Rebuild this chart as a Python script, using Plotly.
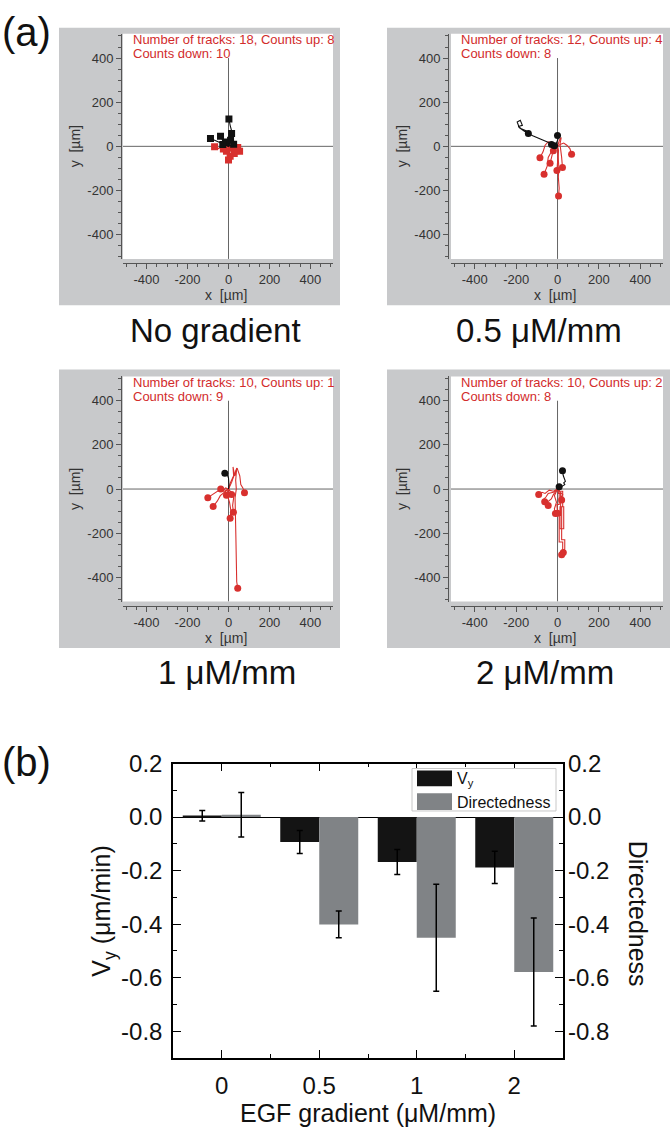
import plotly.graph_objects as go

W, H = 670, 1128
FONT = "Liberation Sans, Arial, sans-serif"

# ---------------- data: panel (a) track plots ----------------
PANEL_TITLES = ["No gradient", "0.5 \u03bcM/mm", "1 \u03bcM/mm", "2 \u03bcM/mm"]
PANEL_INFO_LINE1 = ["Number of tracks: 18, Counts up: 8", "Number of tracks: 12, Counts up: 4",
                    "Number of tracks: 10, Counts up: 1", "Number of tracks: 10, Counts up: 2"]
PANEL_INFO_LINE2 = ["Counts down: 10", "Counts down: 8", "Counts down: 9", "Counts down: 8"]

# No gradient
P1_UP_X = [[0, 6, 14, 18, 8, 2], [0, -20, -45, -60, -88], [0, -10, -25, -32, -39], [0, -8, -15],
           [0, 5, 2, 10], [0, 10, 18, 25], [0, -12, -20, -28], [0, 6, 12, 15]]
P1_UP_Y = [[0, 18, 40, 60, 95, 124], [0, 8, 20, 25, 36], [0, 15, 22, 35, 46], [0, 12, 20],
           [0, 10, 20, 28], [0, 5, 3, 10], [0, 6, 2, 8], [0, 20, 45, 58]]
P1_DOWN_X = [[0, -20, -35, -50, -68], [0, 15, 30, 42, 54], [0, 5, -3, 2, 0], [0, 10, 5, 8],
             [0, -10, -18, -25], [0, 8, 14, 20], [0, 12, 25, 35], [0, -5, -8, -10],
             [0, 10, 20, 28], [0, 15, 30, 45]]
P1_DOWN_Y = [[0, -8, -4, -10, -2], [0, -10, -5, -18, -22], [0, -15, -30, -48, -62], [0, -12, -30, -45],
             [0, -5, -2, -12], [0, -3, -10, -8], [0, 2, -12, -20], [0, -8, -15, -22],
             [0, -12, -25, -32], [0, -3, 2, -5]]

# 0.5 uM/mm
P2_UP_X = [[0, -40, -80, -120, -160, -185, -195, -180, -170, -190, -175, -150, -141],
           [0, -5, 3, 0], [0, -10, -20, -29], [0, -8, -15]]
P2_UP_Y = [[0, 15, 32, 48, 68, 85, 110, 118, 95, 90, 80, 70, 58],
           [0, 15, 35, 49], [0, 5, 2, 8], [0, 5, 3]]
P2_DOWN_X = [[0, -20, -45, -60, -70, -85], [0, -15, -30, -45, -50, -65], [0, -10, -25, -30, -36],
             [0, 5, 2, -2, -3], [0, 10, 18, 12, 20, 24], [0, 3, 6, 4, 8, 5],
             [0, 15, 30, 45, 60, 68], [0, -10, -20]]
P2_DOWN_Y = [[0, 15, 20, 5, -25, -52], [0, -10, -25, -50, -90, -126], [0, -15, -35, -55, -77],
             [0, -20, -50, -85, -110], [0, 30, 40, 10, -50, -96], [0, -40, -90, -140, -190, -225],
             [0, 10, 15, 5, -10, -36], [0, -12, -20]]

# 1 uM/mm
P3_UP_X = [[0, 2, 0, -8, -18]]
P3_UP_Y = [[0, 20, 50, 70, 72]]
P3_DOWN_X = [[0, 10, 25, 22, 30, 40, 35, 38, 32, 35, 36, 38, 40, 45],
             [0, -20, -45, -70, -85, -101], [0, -20, -40, -55, -75], [0, -15, -25, -38],
             [0, -5, 5, 12, 8], [0, 15, 25, 20, 24], [0, 15, 30, 42, 55, 60, 70, 78],
             [0, -5, -10], [0, 8, 15]]
P3_DOWN_Y = [[0, 30, 60, 100, 60, 95, 40, 0, -40, -120, -220, -320, -420, -449],
             [0, -10, -5, -20, -30, -39], [0, -15, -30, -55, -79], [0, 5, -8, 0],
             [0, -30, -60, -100, -132], [0, -20, -40, -75, -105], [0, 30, 70, 95, 60, 20, 5, -17],
             [0, -15, -28], [0, -10, -25]]

# 2 uM/mm
P4_UP_X = [[0, 15, 25, 35, 30, 38, 28, 24], [0, 4, 8]]
P4_UP_Y = [[0, 8, 12, 20, 28, 35, 60, 83], [0, 5, 10]]
P4_DOWN_X = [[0, 10, 25, 25, 12, 12, 30, 30, 20, 20, 35, 35, 28], [0, 5, 15, 15, 8, 8, 25, 25, 20],
             [0, -20, -40, -60, -75, -91], [0, -20, -45, -55, -70, -62], [0, -15, -5, -15, -10],
             [0, -20, -30, -50, -45], [0, 10, 25, 15, 20], [0, 8, 8, -3, 0]]
P4_DOWN_Y = [[0, -10, -10, -80, -80, -180, -180, -80, -80, -230, -230, -270, -288],
             [0, -20, -20, -120, -120, -240, -240, -280, -298],
             [0, -10, -5, -20, -15, -25], [0, -15, -20, -35, -50, -58], [0, -30, -60, -90, -111],
             [0, -25, -45, -60, -75], [0, -10, -25, -40, -50], [0, -15, -70, -70, -110]]

TRACK_TICKS = [-400, -200, 0, 200, 400]
TRACK_TICK_TEXT = ["-400", "-200", "0", "200", "400"]
TRACK_XRANGE = [-515, 510]
TRACK_YRANGE = [-510, 510]

# ---------------- data: panel (b) bar chart ----------------
CATEGORIES = ["0", "0.5", "1", "2"]
VY = [0.005, -0.093, -0.168, -0.188]
VY_ERR = [0.02, 0.043, 0.047, 0.06]
DIRECTEDNESS = [0.009, -0.401, -0.451, -0.579]
DIRECTEDNESS_ERR = [0.083, 0.05, 0.2, 0.202]
BAR_YTICKS = [0.2, 0.0, -0.2, -0.4, -0.6, -0.8]
BAR_YTICK_TEXT = ["0.2", "0.0", "-0.2", "-0.4", "-0.6", "-0.8"]
BAR_YRANGE = [-0.9, 0.2]

# ---------------- styles ----------------
RED = "#d8302e"
TXT_RED = "#d22b2b"
BLACK = "#111111"
GREY_BG = "#c8c9cb"
AX_COL = "#555555"
BAR_BLACK = "#141414"
BAR_GREY = "#808386"


def px(x):
    return x / W


def py(y):
    return 1 - y / H


def ann(x, y, text, size, color="#111111", **kw):
    d = dict(xref="paper", yref="paper", x=px(x), y=py(y), text=text, showarrow=False,
             xanchor="center", yanchor="middle", font=dict(family=FONT, size=size, color=color))
    d.update(kw)
    return d


PANELS = [
    dict(x0=123, x1=333, y0=20, y1=248, gx0=59, gx1=340, gy0=14, gy1=295, ay=121, ax=252, lx=215, ly=320),
    dict(x0=451, x1=663, y0=20, y1=248, gx0=387, gx1=670, gy0=14, gy1=295, ay=448, ax=252, lx=539, ly=320),
    dict(x0=123, x1=333, y0=367, y1=595, gx0=59, gx1=340, gy0=360, gy1=642, ay=121, ax=599, lx=227, ly=667),
    dict(x0=451, x1=663, y0=367, y1=595, gx0=387, gx1=670, gy0=360, gy1=642, ay=448, ax=599, lx=545, ly=667),
]

TRACKS = [
    (P1_UP_X, P1_UP_Y, P1_DOWN_X, P1_DOWN_Y, "square"),
    (P2_UP_X, P2_UP_Y, P2_DOWN_X, P2_DOWN_Y, "circle"),
    (P3_UP_X, P3_UP_Y, P3_DOWN_X, P3_DOWN_Y, "circle"),
    (P4_UP_X, P4_UP_Y, P4_DOWN_X, P4_DOWN_Y, "circle"),
]


def joined(tracks):
    out = []
    for t in tracks:
        out += list(t) + [None]
    return out


fig = go.Figure()
shapes = []
annotations = []
layout = dict()

for i, (pan, (ux, uy, dx, dy, sym)) in enumerate(zip(PANELS, TRACKS)):
    n = i + 1
    xa, ya = f"x{n}", f"y{n}"
    for tx, ty, col in ((dx, dy, RED), (ux, uy, BLACK)):
        fig.add_trace(go.Scatter(x=joined(tx), y=joined(ty), mode="lines", xaxis=xa, yaxis=ya,
                                 line=dict(color=col, width=1.1), showlegend=False, hoverinfo="skip"))
        fig.add_trace(go.Scatter(x=[t[-1] for t in tx], y=[t[-1] for t in ty], mode="markers",
                                 xaxis=xa, yaxis=ya, showlegend=False,
                                 marker=dict(symbol=sym, size=7, color=col)))
    axcommon = dict(showgrid=False, zeroline=False, showline=True, linecolor=AX_COL, linewidth=1,
                    ticks="outside", ticklen=5, tickcolor=AX_COL, tickwidth=1,
                    tickmode="array", tickvals=TRACK_TICKS, ticktext=TRACK_TICK_TEXT,
                    minor=dict(dtick=50, tick0=0, ticks="outside", ticklen=3, tickcolor=AX_COL),
                    tickfont=dict(family=FONT, size=13, color="#333333"), anchor="free")
    layout[f"xaxis{n}"] = dict(axcommon, domain=[px(pan["x0"]), px(pan["x1"])], range=TRACK_XRANGE,
                               position=py(pan["ax"]))
    layout[f"yaxis{n}"] = dict(axcommon, domain=[py(pan["y1"]), py(pan["y0"])], range=TRACK_YRANGE,
                               position=px(pan["ay"]))
    # grey panel background and white plot area
    shapes.append(dict(type="rect", xref="paper", yref="paper", x0=px(pan["gx0"]), x1=px(pan["gx1"]),
                       y0=py(pan["gy1"]), y1=py(pan["gy0"]), fillcolor=GREY_BG, line=dict(width=0),
                       layer="below"))
    shapes.append(dict(type="rect", xref="paper", yref="paper", x0=px(pan["x0"]), x1=px(pan["x1"]),
                       y0=py(pan["y1"]), y1=py(pan["y0"]), fillcolor="white", line=dict(width=0),
                       layer="below"))
    # crosshair
    shapes.append(dict(type="line", xref=xa, yref=ya, x0=TRACK_XRANGE[0], x1=TRACK_XRANGE[1], y0=0, y1=0,
                       line=dict(color="#666666", width=1), layer="below"))
    shapes.append(dict(type="line", xref=xa, yref=ya, x0=0, x1=0, y0=TRACK_YRANGE[0], y1=400,
                       line=dict(color="#666666", width=1), layer="below"))
    # info text
    annotations.append(ann(pan["x0"] + 8, pan["y0"] + 6, PANEL_INFO_LINE1[i], 13, TXT_RED, xanchor="left"))
    annotations.append(ann(pan["x0"] + 8, pan["y0"] + 20, PANEL_INFO_LINE2[i], 13, TXT_RED, xanchor="left"))
    # axis titles
    annotations.append(ann((pan["x0"] + pan["x1"]) / 2 - 2, pan["ax"] + 33, "x&nbsp;&nbsp;[\u00b5m]", 14,
                           "#333333"))
    annotations.append(ann(pan["ay"] - 46, (pan["y0"] + pan["y1"]) / 2, "y&nbsp;&nbsp;[\u00b5m]", 14,
                           "#333333", textangle=-90))
    # condition title
    annotations.append(ann(pan["lx"], pan["ly"], PANEL_TITLES[i], 33))

# ---------------- bar chart ----------------
idx = list(range(len(CATEGORIES)))
fig.add_trace(go.Bar(x=idx, y=VY, width=0.4, offset=-0.4, xaxis="x5", yaxis="y5",
                     marker=dict(color=BAR_BLACK, line=dict(width=0)), showlegend=False,
                     error_y=dict(type="data", array=VY_ERR, color="black", thickness=1.5, width=3)))
fig.add_trace(go.Bar(x=idx, y=DIRECTEDNESS, width=0.4, offset=0.0, xaxis="x5", yaxis="y6",
                     marker=dict(color=BAR_GREY, line=dict(width=0)), showlegend=False,
                     error_y=dict(type="data", array=DIRECTEDNESS_ERR, color="black", thickness=1.5,
                                  width=3)))

BX0, BX1, BY0, BY1 = 173, 563, 759, 1057
bar_tickfont = dict(family=FONT, size=24, color="#111111")
layout["xaxis5"] = dict(domain=[px(BX0), px(BX1)], anchor="y5", range=[-0.5, 3.5],
                        tickmode="array", tickvals=idx, ticktext=CATEGORIES,
                        ticks="inside", ticklen=8, tickwidth=1.3, tickcolor="black",
                        minor=dict(dtick=0.5, tick0=0, ticks="inside", ticklen=4, tickcolor="black",
                                   tickwidth=1.3),
                        showline=True, linecolor="black", linewidth=1.5, mirror="ticks",
                        showgrid=False, zeroline=False, tickfont=bar_tickfont, ticklabelstandoff=6)
layout["yaxis5"] = dict(domain=[py(BY1), py(BY0)], anchor="x5", range=BAR_YRANGE,
                        tickmode="array", tickvals=BAR_YTICKS, ticktext=BAR_YTICK_TEXT,
                        ticks="inside", ticklen=8, tickwidth=1.3, tickcolor="black",
                        minor=dict(dtick=0.1, tick0=0, ticks="inside", ticklen=4, tickcolor="black",
                                   tickwidth=1.3),
                        showline=True, linecolor="black", linewidth=1.5, mirror="ticks",
                        showgrid=False, zeroline=True, zerolinecolor="black", zerolinewidth=1.3,
                        tickfont=bar_tickfont, ticklabelstandoff=4)
layout["yaxis6"] = dict(overlaying="y5", side="right", anchor="x5", range=BAR_YRANGE,
                        tickmode="array", tickvals=BAR_YTICKS, ticktext=BAR_YTICK_TEXT,
                        ticks="", showline=False, showgrid=False, zeroline=False,
                        tickfont=bar_tickfont, ticklabelstandoff=4)

# axis titles of bar chart
annotations.append(ann(103, 908, "V<sub>y</sub> (\u03bcm/min)", 25, textangle=-90))
annotations.append(ann(638, 911, "Directedness", 25, textangle=90))
annotations.append(ann(368, 1113, "EGF gradient (\u03bcM/mm)", 25))

# custom legend
shapes.append(dict(type="rect", xref="paper", yref="paper", x0=px(412), x1=px(556), y0=py(807), y1=py(764),
                   fillcolor="white", line=dict(color="#c8c8c8", width=1)))
shapes.append(dict(type="rect", xref="paper", yref="paper", x0=px(417), x1=px(452), y0=py(782), y1=py(766),
                   fillcolor=BAR_BLACK, line=dict(width=0)))
shapes.append(dict(type="rect", xref="paper", yref="paper", x0=px(417), x1=px(452), y0=py(806), y1=py(789),
                   fillcolor=BAR_GREY, line=dict(width=0)))
annotations.append(ann(455, 775, "V<sub>y</sub>", 16, xanchor="left"))
annotations.append(ann(455, 798, "Directedness", 16, xanchor="left"))

# panel letters
annotations.append(ann(26, 18, "(a)", 40))
annotations.append(ann(26, 757, "(b)", 40))

fig.update_layout(width=W, height=H, margin=dict(l=0, r=0, t=0, b=0), autosize=False,
                  paper_bgcolor="white", plot_bgcolor="white", showlegend=False,
                  shapes=shapes, annotations=annotations, **layout)

fig.write_html("out.html", config={"displayModeBar": False},
               post_script="document.body.style.margin='0px';")
